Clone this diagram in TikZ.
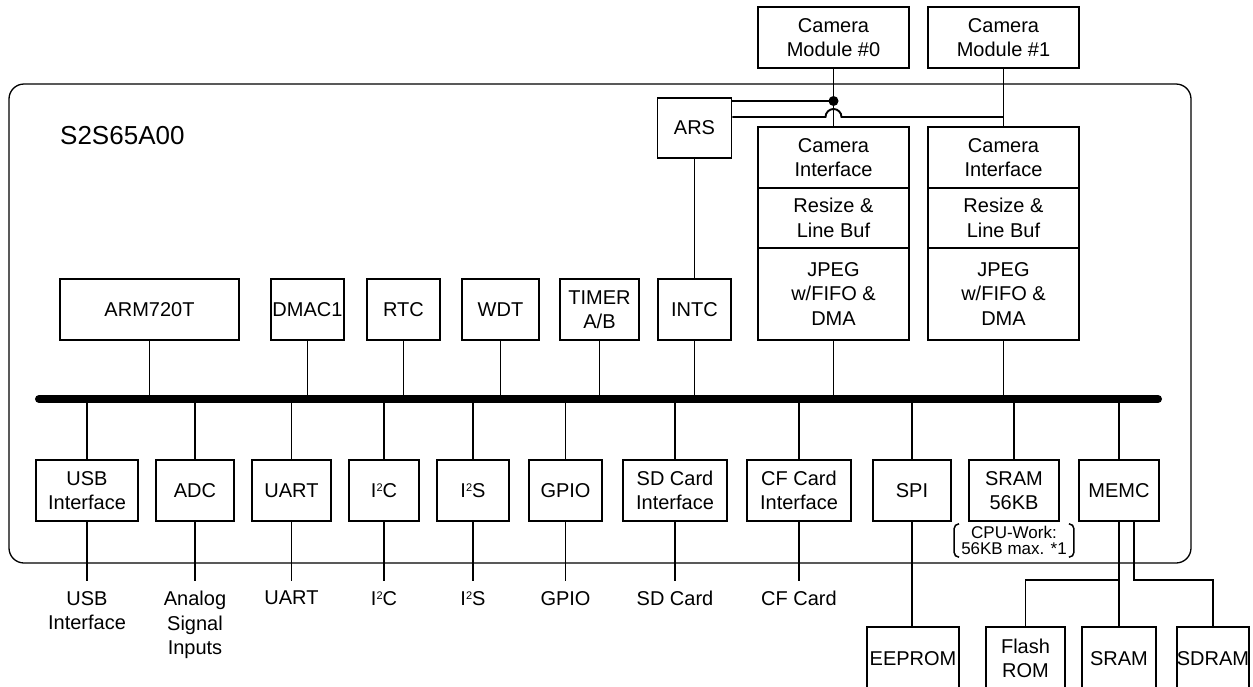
\documentclass[tikz,border=0pt]{standalone}
\usepackage{fontspec}
\setmainfont{Liberation Sans}
\usetikzlibrary{calc}
\newcommand{\supx}[1]{\smash{\raisebox{6pt}{\fontsize{11}{11}\selectfont #1}}}
\tikzset{
  blk/.style={draw, line width=1.9pt, inner sep=0pt, align=center,
              font=\fontsize{20}{24.5}\selectfont},
  lab/.style={inner xsep=0pt, inner ysep=10pt, align=center,
              font=\fontsize{20}{24.5}\selectfont, anchor=north},
  wire/.style={line width=1.9pt},
  bus/.style={line width=8pt, line cap=round},
  chip/.style={line width=1.3pt, rounded corners=15pt},
}
\begin{document}
\begin{tikzpicture}[x=1pt,y=-1pt]
\clip (0,0) rectangle (1253,686);

% chip outline
\draw[chip] (9,84) rectangle (1191,563);
\node[anchor=west, inner sep=0pt, font=\fontsize{26}{30}\selectfont] (title) at (60,136) {S2S65A00};

% bus
\coordinate (busL) at (39,399);
\coordinate (busR) at (1158,399);
\draw[bus] (busL) -- (busR);

% top row
\node[blk, minimum width=179pt, minimum height=61pt] (arm)   at (149.5,309.5) {ARM720T};
\node[blk, minimum width=73pt,  minimum height=61pt] (dmac)  at (307.5,309.5) {DMAC1};
\node[blk, minimum width=73pt,  minimum height=61pt] (rtc)   at (403.5,309.5) {RTC};
\node[blk, minimum width=77pt,  minimum height=61pt] (wdt)   at (500.5,309.5) {WDT};
\node[blk, minimum width=79pt,  minimum height=61pt] (timer) at (599.5,309.5) {TIMER\\A/B};
\node[blk, minimum width=73pt,  minimum height=61pt] (intc)  at (694.5,309.5) {INTC};
\node[blk, minimum width=74pt,  minimum height=60pt] (ars)   at (694.5,128) {ARS};

% camera modules
\node[blk, minimum width=151pt, minimum height=61pt] (cm0) at (833.5,37.5) {Camera\\Module \#0};
\node[blk, minimum width=151pt, minimum height=61pt] (cm1) at (1003.5,37.5) {Camera\\Module \#1};

% camera pipelines
\node[blk, minimum width=151pt, minimum height=61pt] (ci0) at (833.5,157.5) {Camera\\Interface};
\node[blk, minimum width=151pt, minimum height=60pt] (rs0) at (833.5,218) {Resize \&\\Line Buf};
\node[blk, minimum width=151pt, minimum height=92pt] (jp0) at (833.5,294) {JPEG\\w/FIFO \&\\DMA};
\node[blk, minimum width=151pt, minimum height=61pt] (ci1) at (1003.5,157.5) {Camera\\Interface};
\node[blk, minimum width=151pt, minimum height=60pt] (rs1) at (1003.5,218) {Resize \&\\Line Buf};
\node[blk, minimum width=151pt, minimum height=92pt] (jp1) at (1003.5,294) {JPEG\\w/FIFO \&\\DMA};

% camera wiring
\coordinate (jd) at (833.5,101);
\coordinate (j1) at (1003.5,117);
\draw[wire] (cm0.south) -- (ci0.north);
\draw[wire] (cm1.south) -- (ci1.north);
\fill (jd) circle (5pt);
\draw[wire] (ars.east |- jd) -- (jd);
\draw[wire] (ars.east |- j1) -- ($(jd |- j1)+(-8,0)$)
   arc[start angle=180, end angle=0, radius=8pt] -- (j1);
\draw[wire] (ars.south) -- (intc.north);

% top row to bus
\foreach \n in {arm,dmac,rtc,wdt,timer,intc,jp0,jp1}
  \draw[wire] (\n.south) -- (\n.south |- busL);

% bottom row
\node[blk, minimum width=102pt, minimum height=61pt] (usb)  at (87,490.5)   {USB\\Interface};
\node[blk, minimum width=78pt,  minimum height=61pt] (adc)  at (195,490.5)  {ADC};
\node[blk, minimum width=79pt,  minimum height=61pt] (uart) at (291.5,490.5){UART};
\node[blk, minimum width=70pt,  minimum height=61pt] (i2c)  at (384,490.5)  {I\supx{2}C};
\node[blk, minimum width=72pt,  minimum height=61pt] (i2s)  at (473,490.5)  {I\supx{2}S};
\node[blk, minimum width=73pt,  minimum height=61pt] (gpio) at (565.5,490.5){GPIO};
\node[blk, minimum width=104pt, minimum height=61pt] (sd)   at (675,490.5)  {SD Card\\Interface};
\node[blk, minimum width=104pt, minimum height=61pt] (cf)   at (799,490.5)  {CF Card\\Interface};
\node[blk, minimum width=78pt,  minimum height=61pt] (spi)  at (912,490.5)  {SPI};
\node[blk, minimum width=90pt,  minimum height=61pt] (sram56) at (1014,490.5) {SRAM\\56KB};
\node[blk, minimum width=80pt,  minimum height=61pt] (memc) at (1119,490.5) {MEMC};

\foreach \n in {usb,adc,uart,i2c,i2s,gpio,sd,cf,spi,sram56,memc}
  \draw[wire] (\n.north) -- (\n.north |- busL);

% external labels
\node[lab] (l-usb)  at (87,581)    {USB\\Interface};
\node[lab] (l-adc)  at (195,581)   {Analog\\Signal\\Inputs};
\node[lab] (l-uart) at (291.5,581) {UART};
\node[lab] (l-i2c)  at (384,581)   {I\supx{2}C};
\node[lab] (l-i2s)  at (473,581)   {I\supx{2}S};
\node[lab] (l-gpio) at (565.5,581) {GPIO};
\node[lab] (l-sd)   at (675,581)   {SD Card};
\node[lab] (l-cf)   at (799,581)   {CF Card};
\foreach \n in {usb,adc,uart,i2c,i2s,gpio,sd,cf}
  \draw[wire] (\n.south) -- (l-\n.north);

% CPU work note
\node[inner xsep=7pt, inner ysep=0pt, minimum height=33pt, align=center,
      font=\fontsize{17}{16}\selectfont] (note) at (1014,540.5) {CPU-Work:\\56KB max. *1};
\draw[line width=1.5pt] ([xshift=5pt]note.north west) to[out=180,in=90] ([yshift=-5pt]note.north west)
   -- ([yshift=5pt]note.south west) to[out=-90,in=180] ([xshift=5pt]note.south west);
\draw[line width=1.5pt] ([xshift=-5pt]note.north east) to[out=0,in=90] ([yshift=-5pt]note.north east)
   -- ([yshift=5pt]note.south east) to[out=-90,in=0] ([xshift=-5pt]note.south east);

% external memories
\node[blk, minimum width=92pt, minimum height=63pt] (eeprom) at (913,658.5)    {EEPROM};
\node[blk, minimum width=79pt, minimum height=63pt] (flash)  at (1025.5,658.5) {Flash\\ROM};
\node[blk, minimum width=74pt, minimum height=63pt] (sram)   at (1119,658.5)   {SRAM};
\node[blk, minimum width=72pt, minimum height=63pt] (sdram)  at (1213,658.5)   {SDRAM};

\coordinate (mj) at (1119,580);
\draw[wire] (spi.south) -- (spi.south |- eeprom.north);
\draw[wire] (memc.south) -- (sram.north);
\draw[wire] (mj) -| (flash.north);
\draw[wire] ([xshift=15pt]memc.south) |- (mj -| sdram.north) -- (sdram.north);
\end{tikzpicture}
\end{document}
